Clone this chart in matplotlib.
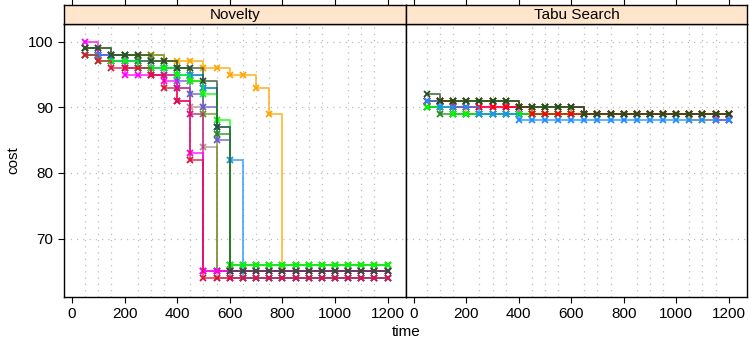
import matplotlib
matplotlib.use("Agg")
import matplotlib.pyplot as plt

plt.rcParams['font.family'] = ['Liberation Sans', 'DejaVu Sans']

# time grid (one recorded value every 50 time units)
time = [50, 100, 150, 200, 250, 300, 350, 400, 450, 500, 550, 600,
        650, 700, 750, 800, 850, 900, 950, 1000, 1050, 1100, 1150, 1200]

# Novelty runs
nov_orange = [98, 98, 98, 98, 98, 98, 97, 97, 97, 96, 96, 95, 95, 93, 89, 65, 65, 65, 65, 65, 65, 65, 65, 65]
nov_darkgreen = [99, 99, 98, 98, 98, 97, 97, 96, 96, 94, 87, 65, 65, 65, 65, 65, 65, 65, 65, 65, 65, 65, 65, 65]
nov_magenta = [100, 98, 97, 95, 95, 95, 94, 91, 83, 65, 65, 65, 65, 65, 65, 65, 65, 65, 65, 65, 65, 65, 65, 65]
nov_red = [98, 97, 96, 96, 96, 95, 93, 91, 82, 64, 64, 64, 64, 64, 64, 64, 64, 64, 64, 64, 64, 64, 64, 64]
nov_lime = [98, 97, 97, 97, 96, 96, 96, 95, 94, 92, 88, 66, 66, 66, 66, 66, 66, 66, 66, 66, 66, 66, 66, 66]
nov_blue = [98, 98, 97, 97, 96, 96, 96, 95, 95, 93, 87, 82, 64, 64, 64, 64, 64, 64, 64, 64, 64, 64, 64, 64]
nov_rosy = [99, 98, 97, 97, 96, 96, 95, 93, 90, 84, 64, 64, 64, 64, 64, 64, 64, 64, 64, 64, 64, 64, 64, 64]
nov_olive = [99, 99, 98, 98, 98, 98, 97, 96, 94, 89, 65, 65, 65, 65, 65, 65, 65, 65, 65, 65, 65, 65, 65, 65]
nov_violet = [98, 98, 97, 96, 96, 95, 95, 93, 89, 65, 65, 65, 65, 65, 65, 65, 65, 65, 65, 65, 65, 65, 65, 65]
nov_slate = [98, 98, 98, 97, 97, 96, 96, 94, 92, 90, 85, 64, 64, 64, 64, 64, 64, 64, 64, 64, 64, 64, 64, 64]
nov_forest = [99, 98, 98, 98, 97, 97, 96, 96, 95, 93, 86, 66, 66, 66, 66, 66, 66, 66, 66, 66, 66, 66, 66, 66]

# Tabu Search runs
tabu_orange = [90, 90, 90, 89, 89, 89, 89, 89, 89, 89, 89, 89, 89, 89, 89, 89, 89, 89, 89, 89, 88, 88, 88, 88]
tabu_darkgreen = [92, 91, 91, 91, 91, 91, 91, 90, 90, 90, 90, 90, 89, 89, 89, 89, 89, 89, 89, 89, 89, 89, 89, 89]
tabu_magenta = [91, 91, 90, 90, 90, 90, 90, 89, 89, 89, 89, 89, 89, 89, 89, 89, 89, 89, 89, 89, 89, 89, 88, 88]
tabu_red = [91, 91, 90, 90, 90, 90, 90, 90, 89, 89, 89, 89, 89, 89, 89, 89, 89, 89, 89, 89, 89, 89, 89, 89]
tabu_lime = [90, 90, 89, 89, 89, 89, 89, 89, 89, 89, 89, 89, 89, 89, 89, 89, 89, 89, 89, 89, 89, 89, 89, 89]
tabu_blue = [91, 90, 90, 90, 89, 89, 89, 88, 88, 88, 88, 88, 88, 88, 88, 88, 88, 88, 88, 88, 88, 88, 88, 88]
tabu_rosy = [91, 91, 91, 91, 91, 91, 91, 90, 90, 90, 90, 90, 89, 89, 89, 89, 89, 89, 89, 89, 89, 89, 89, 89]
tabu_olive = [91, 91, 91, 91, 91, 91, 91, 90, 90, 90, 90, 89, 89, 89, 89, 89, 89, 89, 89, 89, 89, 89, 89, 89]
tabu_violet = [91, 91, 91, 91, 91, 91, 90, 90, 90, 90, 90, 90, 89, 89, 89, 89, 89, 89, 89, 89, 89, 89, 89, 89]
tabu_slate = [90, 90, 89, 89, 89, 89, 89, 89, 89, 89, 89, 89, 89, 89, 89, 89, 89, 89, 89, 89, 89, 89, 89, 88]
tabu_forest = [90, 89, 89, 89, 89, 89, 89, 89, 89, 89, 89, 89, 89, 89, 89, 89, 89, 89, 89, 89, 89, 89, 89, 89]

# drawing order (last drawn ends up on top)
novelty_runs = [(nov_orange, '#FFA500'), (nov_rosy, '#BC8F8F'), (nov_olive, '#6B8E23'),
                (nov_violet, '#C71585'), (nov_slate, '#6A5ACD'), (nov_forest, '#228B22'),
                (nov_magenta, '#FF00FF'), (nov_blue, '#1E90FF'), (nov_lime, '#00FF00'),
                (nov_darkgreen, '#2F4F2F'), (nov_red, '#DC143C')]
tabu_runs = [(tabu_orange, '#FFA500'), (tabu_magenta, '#FF00FF'), (tabu_slate, '#6A5ACD'),
             (tabu_forest, '#228B22'), (tabu_violet, '#C71585'), (tabu_lime, '#00FF00'),
             (tabu_rosy, '#8B3A3A'), (tabu_olive, '#6B8E23'), (tabu_red, '#FF0000'),
             (tabu_blue, '#1E90FF'), (tabu_darkgreen, '#1F4F1F')]

panel_names = ['Novelty', 'Tabu Search']
x_ticks = [0, 200, 400, 600, 800, 1000, 1200]
y_ticks = [70, 80, 90, 100]

W, H = 750, 340
fig = plt.figure(figsize=(W / 100, H / 100), dpi=100)

panels = [(64, 342), (406, 341)]
bottom, top, strip_top = 297, 24, 5

for i, (runs, name) in enumerate(zip([novelty_runs, tabu_runs], panel_names)):
    left, width = panels[i]
    ax = fig.add_axes([left / W, 1 - bottom / H, width / W, (bottom - top) / H])
    ax.set_xlim(-30, 1270)
    ax.set_ylim(61.1, 102.7)

    # dotted reference grid
    ax.set_xticks(x_ticks)
    ax.set_xticks(time + [0], minor=True)
    ax.set_yticks(y_ticks)
    ax.grid(which='minor', axis='x', color='#bdbdbd', linestyle=(0, (1, 4)), linewidth=0.9)
    ax.grid(which='major', axis='y', color='#bdbdbd', linestyle=(0, (1, 4)), linewidth=0.9)
    ax.set_axisbelow(True)

    for vals, col in runs:
        ax.plot(time, vals, drawstyle='steps-post', color=col, lw=1.3, alpha=0.75)
        ax.plot(time, vals, linestyle='none', marker='x', color=col, ms=5, mew=1.3)

    ax.tick_params(which='major', direction='out', length=4, width=0.8,
                   labelsize=11, colors='black')
    ax.tick_params(which='minor', length=0)
    if i > 0:
        ax.tick_params(axis='y', left=False, labelleft=False)
    for s in ax.spines.values():
        s.set_linewidth(1.0)

    # strip header
    sax = fig.add_axes([left / W, 1 - top / H, width / W, (top - strip_top) / H])
    sax.set_facecolor('#FFE5CC')
    sax.set_xlim(-30, 1270)
    sax.set_xticks(x_ticks)
    sax.set_yticks([])
    sax.tick_params(axis='x', bottom=False, labelbottom=False, top=True,
                    direction='out', length=4, width=0.8)
    sax.text(0.5, 0.45, name, transform=sax.transAxes, ha='center', va='center',
             fontsize=11)
    for s in sax.spines.values():
        s.set_linewidth(1.0)

fig.text(406 / W, 1 - 332 / H, 'time', ha='center', va='center', fontsize=11)
fig.text(13 / W, 1 - 160 / H, 'cost', ha='center', va='center', rotation=90, fontsize=11)

fig.savefig('out.png', dpi=100)
